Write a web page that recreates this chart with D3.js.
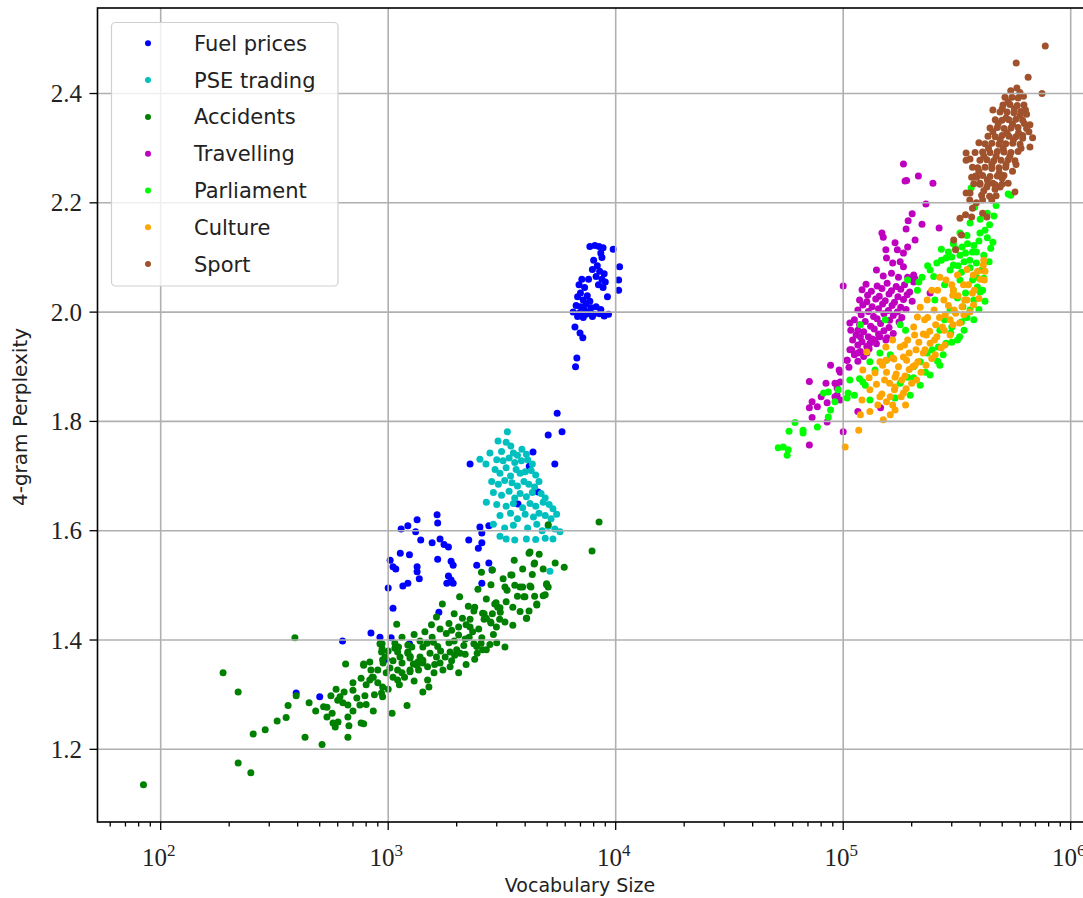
<!DOCTYPE html>
<html>
<head>
<meta charset="utf-8">
<script src="https://cdn.jsdelivr.net/npm/d3@7"></script>
<style>
  html, body { margin: 0; padding: 0; background: #fff; overflow: hidden; }
  svg { display: block; }
  .tick-serif { font-family: "Liberation Serif", "DejaVu Serif", serif; }
  .sans { font-family: "DejaVu Sans", sans-serif; }
</style>
</head>
<body>
<svg id="chart" width="1083" height="898"></svg>
<script>
// ---- data (vocabulary size, 4-gram perplexity) ----
var fuelPrices = [
  [7700,2.120],[8100,2.122],[8450,2.120],[8800,2.118],[9750,2.115],[8600,2.108],[8700,2.100],[10400,2.083],[10300,2.059],[10300,2.040],[9200,2.028],
  [8000,2.095],[8300,2.085],[7900,2.078],[8500,2.075],[8900,2.070],[8200,2.065],[8700,2.060],[9000,2.055],[7600,2.060],[8400,2.050],[8800,2.045],
  [7100,2.060],[6900,2.050],[7300,2.045],[7000,2.035],[7500,2.030],[6800,2.028],[7200,2.022],[7700,2.020],[7400,2.015],[6700,2.012],[7000,2.010],
  [7800,2.008],[8200,2.010],[8600,2.005],[7300,2.004],[6500,2.000],[6900,1.998],[7600,1.998],[8000,1.996],[8900,1.993],[9300,1.996],[7200,1.990],
  [7000,1.994],[7900,1.992],[8500,1.997],[6800,1.992],[7400,1.996],
  [6620,1.973],[6970,1.962],[7170,1.953],[6750,1.916],[6660,1.900],
  [5530,1.815],[5050,1.775],[5810,1.781],[4330,1.744],[2290,1.722],[4170,1.718],[5400,1.722],[4560,1.671],[3720,1.649],
  [1640,1.629],[1650,1.614],[1340,1.620],[1220,1.609],[1140,1.603],[1320,1.598],[1390,1.583],[1560,1.578],[1690,1.585],[1760,1.575],
  [1840,1.570],[2260,1.583],[2530,1.607],[2580,1.596],[2490,1.568],[2580,1.578],[2770,1.609],[1130,1.559],[1240,1.556],[1020,1.546],
  [1050,1.534],[1080,1.530],[1340,1.534],[1340,1.525],[1370,1.512],[1650,1.548],[1890,1.544],[1930,1.537],[2450,1.537],[2770,1.541],
  [2860,1.528],[1840,1.517],[1890,1.510],[1810,1.504],[1930,1.504],[1160,1.499],[1220,1.504],[1000,1.495],[2580,1.504],[1050,1.458],
  [1670,1.451],[840,1.413],[920,1.405],[1030,1.404],[630,1.398],[1240,1.393],[980,1.365],[394,1.303],[500,1.296]
];

var pseTrading = [
  [3340,1.781],[3040,1.764],[3460,1.755],[3870,1.749],[3300,1.762],
  [2800,1.742],[3150,1.745],[3550,1.742],[3700,1.738],[4050,1.740],
  [2530,1.731],[2690,1.722],[3000,1.730],[3200,1.728],[3400,1.733],[3600,1.725],[3850,1.728],[4100,1.730],[4300,1.722],
  [2950,1.712],[3100,1.705],[3300,1.715],[3450,1.700],[3650,1.712],[3800,1.705],[4000,1.708],[4250,1.710],[4450,1.702],
  [2850,1.690],[3050,1.685],[3250,1.692],[3500,1.688],[3700,1.682],[3950,1.690],[4150,1.685],[4600,1.690],[4400,1.680],
  [2900,1.670],[3150,1.665],[3400,1.672],[3600,1.660],[3800,1.668],[4050,1.662],[4300,1.670],[4700,1.668],[4900,1.660],
  [2700,1.652],[3000,1.648],[3300,1.645],[3550,1.650],[3900,1.642],[4200,1.650],[4450,1.645],[4800,1.652],[5100,1.648],[5300,1.640],
  [3100,1.628],[3450,1.632],[3700,1.622],[4000,1.630],[4350,1.625],[4600,1.632],[4900,1.628],[5200,1.622],[5500,1.630],
  [2900,1.612],[3250,1.605],[3550,1.610],[4100,1.605],[4500,1.612],[4750,1.600],[5050,1.608],[5400,1.603],[5690,1.598],
  [3100,1.590],[3300,1.585],[3600,1.583],[4050,1.585],[4450,1.584],[4900,1.586],[5300,1.585],[5140,1.526]
];

var accidents = [
  [84,1.135],[219,1.175],[249,1.157],[188,1.340],[219,1.305],[389,1.404],
  [255,1.228],[288,1.236],[325,1.252],[356,1.258],[363,1.280],[394,1.298],[431,1.222],[512,1.209],[449,1.285],[538,1.277],
  [538,1.259],[567,1.266],[572,1.248],[602,1.250],[585,1.241],[614,1.296],[632,1.285],[665,1.281],[700,1.308],[728,1.294],
  [751,1.281],[665,1.259],[672,1.243],[665,1.222],[760,1.248],[780,1.247],[650,1.356],[780,1.354],[830,1.360],[790,1.298],
  [860,1.270],[830,1.327],[850,1.332],[945,1.314],[935,1.303],[945,1.296],[1090,1.429],[920,1.393],[935,1.378],[945,1.364],
  [1040,1.266],[1210,1.280],
  [1070,1.394],[1070,1.385],[1220,1.391],[1220,1.378],[1018,1.349],[1050,1.332],[1100,1.327],[1180,1.332],[1247,1.345],
  [1340,1.354],[1420,1.358],[1420,1.305],[1490,1.327],[1510,1.314],
  [8450,1.616],[7870,1.563],[5050,1.611],[4160,1.559],[4610,1.557],[3580,1.546],[4380,1.539],[4800,1.530],[5420,1.541],
  [5940,1.533],[2570,1.524],[2870,1.528],[3460,1.519],[2830,1.501],[2480,1.493],[3260,1.497],[3330,1.491],[3900,1.497],
  [4240,1.497],[4970,1.503],[5050,1.497],[3990,1.479],[4800,1.481],[4500,1.466],[4160,1.453],[4060,1.440],[3530,1.460],
  [3530,1.427],[2060,1.479],[2250,1.462],[2380,1.453],[2940,1.466],[3030,1.460],[3110,1.451],[2870,1.448],[3090,1.438],
  [2640,1.448],[2640,1.438],[2820,1.433],[2990,1.424],[1730,1.466],[1630,1.442],[2120,1.440],[2290,1.438],[2290,1.424],
  [2040,1.424],[1690,1.420],[2040,1.409],[2270,1.405],[2580,1.404],[2560,1.394],[2380,1.393],[2180,1.402],
  [1560,1.405],[1580,1.396],[1480,1.394],[1420,1.387],[1270,1.387],[3260,1.387],
  [940,1.393],[940,1.384],[970,1.369],[950,1.358],[860,1.332],[840,1.345],[780,1.356],
  [1110,1.387],[1100,1.378],[1127,1.369],[1150,1.358],[1220,1.376],[1247,1.367],[1290,1.356],
  [1380,1.369],[1420,1.363],[1527,1.376],[1630,1.369],[1690,1.358],[1780,1.369],[1871,1.378],[1960,1.372],[2070,1.376],
  [2180,1.374],[2460,1.376],[2600,1.382],
  [1150,1.340],[1247,1.342],[1360,1.345],[1490,1.351],[1590,1.340],[1740,1.345],[1871,1.351],[2040,1.340],
  [2600,1.449],[2980,1.468],[3100,1.459],[2830,1.431],[3260,1.433],[3500,1.519],[3800,1.497],[4200,1.499],[3950,1.479],
  [4200,1.561],[4400,1.541],[4970,1.501],[4900,1.483],[4500,1.464],[4050,1.440],[2700,1.382],
  [1300,1.410],[1450,1.415],[1800,1.412],[1950,1.398],[2350,1.415],[2150,1.390],[1850,1.395],[1650,1.388],[1380,1.398],
  [1150,1.405],[2450,1.388],[2000,1.382],[1700,1.380],[1250,1.370],[1050,1.362],[1100,1.345],[980,1.340],[900,1.322],
  [1000,1.310],[1120,1.318],[1300,1.325],[870,1.300],[800,1.318],[760,1.330],[700,1.322],[640,1.305],[600,1.290],
  [560,1.298],[520,1.278],[480,1.270],[590,1.310],[700,1.270],[800,1.282],[900,1.345],[1000,1.380],[1350,1.360],
  [1600,1.355],[1900,1.362],[2200,1.355],[2400,1.365],[2800,1.392],[3000,1.395],[2900,1.410],[2500,1.420],[2200,1.428],
  [2700,1.440],[3300,1.470],[3700,1.480],[3600,1.500],[4300,1.520],[3900,1.530],[3200,1.512],[2700,1.475],[2400,1.460],
  [1950,1.448],[1850,1.430],[1550,1.428],[1900,1.418],[3800,1.452],[4400,1.480]
];

var travelling = [
  [187000,2.240],[248000,2.236],[231000,2.198],[201000,2.180],[193000,2.167],[222000,2.161],[264000,2.154],[189000,2.152],
  [207000,2.132],[148000,2.145],[150000,2.137],[184000,2.271],[190000,2.241],[214000,2.249],
  [154000,2.114],[169000,2.127],[173000,2.114],[184000,2.108],[192000,2.119],[155000,2.099],[165000,2.090],[178000,2.092],
  [184000,2.083],[140000,2.077],[150000,2.066],[163000,2.071],[175000,2.064],[192000,2.064],[204000,2.068],[206000,2.062],
  [204000,2.055],[100000,2.048],[241000,2.035],
  [126000,2.051],[141000,2.048],[156000,2.053],[171000,2.047],[186000,2.050],
  [121000,2.041],[133000,2.038],[148000,2.043],[163000,2.039],[179000,2.042],[196000,2.037],
  [128000,2.031],[144000,2.029],[159000,2.033],[174000,2.028],[191000,2.032],
  [118000,2.022],[127000,2.019],[139000,2.024],[153000,2.021],[168000,2.018],[184000,2.023],[201000,2.020],
  [122000,2.013],[134000,2.010],[149000,2.015],[164000,2.012],[179000,2.009],
  [116000,2.004],[129000,2.001],[143000,2.006],[158000,2.003],[173000,2.000],[189000,2.005],
  [120000,1.995],[136000,1.992],[151000,1.997],[166000,1.994],[181000,1.990],
  [112000,1.986],[125000,1.983],[141000,1.988],[160000,1.985],[176000,1.982],
  [118000,1.977],[132000,1.974],[146000,1.979],[159000,1.972],
  [108000,1.967],[123000,1.964],[137000,1.969],[151000,1.966],[166000,1.961],
  [114000,1.958],[129000,1.955],[143000,1.960],[156000,1.953],
  [110000,1.949],[121000,1.946],[134000,1.951],[116000,1.940],[127000,1.937],[140000,1.942],
  [107000,1.931],[119000,1.928],[130000,1.933],[112000,1.922],[123000,1.919],[104000,1.912],[116000,1.910],
  [107000,1.980],[116000,1.967],[119000,1.955],[109000,1.931],[116000,1.925],[127000,1.925],[131000,1.943],[138000,1.949],
  [145000,1.955],[154000,1.949],
  [88000,1.903],[96000,1.894],[97000,1.890],[104000,1.912],[106000,1.899],[92000,1.870],[97000,1.872],[94000,1.861],
  [71000,1.873],[84000,1.870],[73000,1.836],[71000,1.825],[80000,1.845],[77000,1.827],[85000,1.834],[92000,1.845],
  [97000,1.839],[73000,1.807],[85000,1.799],[94000,1.848],[100000,1.781],[71000,1.757],[116000,1.818],[146000,1.825]
];

var parliament = [
  [51800,1.752],[54500,1.753],[57300,1.748],[56700,1.738],[57800,1.782],[61400,1.798],[66600,1.779],[66600,1.784],
  [77000,1.790],[86000,1.808],[88000,1.821],[82000,1.852],[92000,1.836],[86000,1.854],[95000,1.858],[105000,1.852],
  [104000,1.843],[107000,1.876],[118000,1.878],[122000,1.872],
  [153000,1.986],[119000,1.977],[145000,1.925],[131000,1.909],[178000,1.977],
  [192000,2.059],[212000,2.040],[222000,2.064],[241000,2.077],[258000,2.090],[270000,2.095],[283000,2.099],[300000,2.101],
  [326000,2.104],[345000,2.108],[370000,2.110],[361000,2.081],[331000,2.073],[385000,2.090],[385000,2.064],[370000,2.059],
  [389000,2.046],[345000,2.035],[318000,2.026],[336000,2.010],[345000,1.991],[331000,1.982],[300000,1.973],[297000,1.962],
  [283000,1.943],[262000,1.936],[246000,1.931],[234000,1.925],[218000,1.909],[204000,1.900],[192000,1.881],[178000,1.870],
  [204000,1.880],[361000,2.163],[312000,2.116],[333000,2.119],[352000,2.125],[531000,2.216],[545000,2.214],[365000,2.227],
  [430000,2.181],[460000,2.176],[378000,2.192],
  [430000,2.136],[455000,2.128],[445000,2.117],[415000,2.104],[438000,2.092],[405000,2.077],[415000,2.062],[375000,2.022],
  [400000,2.037],[361000,2.004],[375000,1.986],[340000,1.967],[318000,1.949],[275000,1.922],[266000,1.903],[241000,1.885],
  [218000,1.866],[197000,1.848],[169000,1.843],
  [188000,1.967],[161000,1.922],[138000,1.894],[125000,1.866],[112000,1.848],[131000,1.839],[155000,1.912],
  [295000,2.004],[279000,1.986],[266000,1.967],[305000,2.040],[326000,2.059],[295000,2.077],[279000,2.050],[253000,2.022],
  [340000,2.092],[305000,2.086],[375000,2.122],[399000,2.145],[326000,2.145],
  [420000,2.150],[440000,2.160],[395000,2.130],[350000,2.140],[470000,2.195],[400000,2.170],[385000,2.110],[360000,2.095],
  [410000,2.040],[395000,2.005],[420000,2.020],[350000,1.990],[325000,1.955],[300000,1.945],[260000,1.910],[230000,1.890],
  [215000,2.055],[235000,2.085],[250000,2.065],[270000,2.115],[290000,2.110],[305000,2.125],[320000,2.085]
];

var culture = [
  [102000,1.753],[117000,1.784],[119000,1.812],[131000,1.818],[145000,1.845],[161000,1.845],[161000,1.812],[155000,1.836],
  [184000,1.852],[169000,1.863],[181000,1.876],[169000,1.881],[155000,1.890],[145000,1.909],[154000,1.912],[165000,1.916],
  [184000,1.918],[202000,1.900],[213000,1.909],[225000,1.925],[241000,1.943],[258000,1.955],[273000,1.973],[295000,1.986],
  [312000,1.998],[333000,2.010],[350000,2.022],[370000,2.035],[305000,2.040],[283000,2.059],[266000,2.064],[245000,2.040],
  [234000,2.022],[218000,2.009],[212000,1.991],[204000,1.973],[192000,1.949],[178000,1.936],[165000,1.949],[154000,1.936],
  [127000,1.927],[138000,1.889],[122000,1.894],
  [149000,1.903],[152000,1.876],[148000,1.850],[167000,1.914],[171000,1.887],[168000,1.858],
  [186000,1.940],[190000,1.912],[187000,1.883],[189000,1.860],[206000,1.958],[209000,1.931],[207000,1.903],[210000,1.876],
  [228000,1.986],[232000,1.958],[229000,1.931],[231000,1.903],[251000,2.004],[255000,1.977],[252000,1.949],[254000,1.922],
  [277000,2.022],[281000,1.995],[278000,1.967],[280000,1.940],[303000,2.031],[307000,2.004],[304000,1.977],
  [338000,2.050],[342000,2.022],[339000,1.995],[373000,2.068],[377000,2.040],[374000,2.013],[413000,2.086],[417000,2.059],
  [318000,2.068],[415000,2.095],[121000,1.839],[131000,1.858],[142000,1.830],[169000,1.821],[188000,1.830],[150000,1.803],
  [160000,1.870],[175000,1.900],[195000,1.925],[215000,1.945],[240000,1.965],[265000,1.990],[290000,2.012],[320000,2.030],
  [355000,2.050],[390000,2.075],[180000,1.845],[200000,1.870],[220000,1.890],[245000,1.915],[270000,1.935],[295000,1.958],
  [325000,1.980],[360000,2.000],[395000,2.025],[140000,1.868],[130000,1.880],[165000,1.830],[195000,1.895],[260000,2.040],
  [235000,1.990],[225000,1.960],[300000,2.050],[350000,2.078],[400000,2.060],[420000,2.075]
];

var sport = [
  [773000,2.487],[576000,2.456],[650000,2.430],[748000,2.400],[598000,2.402],[662000,2.302],
  [514000,2.393],[552000,2.393],[587000,2.392],
  [504000,2.379],[541000,2.380],[582000,2.378],[623000,2.379],
  [489000,2.366],[525000,2.366],[563000,2.365],[603000,2.367],
  [466000,2.352],[499000,2.351],[535000,2.352],[574000,2.353],[615000,2.351],
  [442000,2.337],[476000,2.338],[509000,2.336],[546000,2.337],[587000,2.338],[640000,2.336],
  [433000,2.322],[466000,2.321],[499000,2.323],[535000,2.322],[574000,2.321],[615000,2.323],
  [420000,2.308],[450000,2.309],[484000,2.307],[518000,2.308],[556000,2.309],[599000,2.307],
  [410000,2.293],[442000,2.292],[476000,2.294],[509000,2.293],[546000,2.292],[587000,2.294],
  [399000,2.278],[428000,2.279],[459000,2.277],[494000,2.278],[531000,2.279],[569000,2.277],
  [390000,2.264],[420000,2.265],[450000,2.263],[484000,2.264],[518000,2.265],
  [382000,2.249],[410000,2.250],[442000,2.248],[476000,2.249],[509000,2.250],
  [399000,2.234],[433000,2.235],[466000,2.233],[499000,2.234],
  [347000,2.291],[361000,2.280],[347000,2.278],[370000,2.265],[386000,2.247],[367000,2.247],[399000,2.236],[428000,2.229],
  [455000,2.236],[489000,2.229],[531000,2.236],[347000,2.218],[361000,2.218],[406000,2.214],[410000,2.205],[450000,2.205],
  [569000,2.220],[370000,2.190],[367000,2.174],[326000,2.172],[345000,2.178],[410000,2.181],[428000,2.174],[306000,2.132],
  [331000,2.141],[312000,2.114],[633000,2.370],[662000,2.343],[680000,2.319],
  [455000,2.370],[530000,2.385],[565000,2.372],[600000,2.360],[480000,2.345],[520000,2.355],[555000,2.344],[590000,2.328],
  [625000,2.345],[455000,2.330],[490000,2.315],[525000,2.328],[560000,2.315],[605000,2.300],[435000,2.300],[470000,2.285],
  [505000,2.300],[540000,2.285],[575000,2.270],[415000,2.285],[450000,2.270],[485000,2.255],[520000,2.270],[555000,2.258],
  [395000,2.258],[430000,2.242],[465000,2.225],[500000,2.245],[375000,2.235],[415000,2.222],[440000,2.212],[385000,2.200],
  [360000,2.205],[470000,2.213],[620000,2.395],[545000,2.405],[580000,2.410],[640000,2.362],[500000,2.372],[615000,2.318],
  [655000,2.330],[395000,2.310],[380000,2.292]
];

var seriesNames = ['Fuel prices', 'PSE trading', 'Accidents', 'Travelling', 'Parliament', 'Culture', 'Sport'];
var seriesData = [fuelPrices, pseTrading, accidents, travelling, parliament, culture, sport];
var seriesColors = ['#0000ff', '#00bfbf', '#008000', '#bf00bf', '#00ff00', '#ffa500', '#a0522d'];

var xMajorTicks = [1e2, 1e3, 1e4, 1e5, 1e6];
var xTickExponents = ['2', '3', '4', '5', '6'];
var yTicks = [1.2, 1.4, 1.6, 1.8, 2.0, 2.2, 2.4];
var xLabel = 'Vocabulary Size';
var yLabel = '4-gram Perplexity';

// ---- layout ----
var plotLeft = 97.5, plotRight = 1094, plotTop = 8, plotBottom = 822;

var svg = d3.select('#chart');
svg.append('rect').attr('width', 1083).attr('height', 898).attr('fill', '#fff');

var x = d3.scaleLog()
  .domain([52.75, 1.266e6])
  .range([plotLeft, plotRight]);

var y = d3.scaleLinear()
  .domain([1.067, 2.5565])
  .range([plotBottom, plotTop]);

// points
seriesData.forEach(function(pts, i) {
  svg.append('g')
    .selectAll('circle')
    .data(pts)
    .enter()
    .append('circle')
    .attr('cx', function(d) { return x(d[0]); })
    .attr('cy', function(d) { return y(d[1]); })
    .attr('r', 3.5)
    .attr('fill', seriesColors[i]);
});

// grid (drawn over the points, like the original)
var grid = svg.append('g').attr('stroke', '#b0b0b0').attr('stroke-width', 1.6);
xMajorTicks.forEach(function(t) {
  grid.append('line')
    .attr('x1', x(t)).attr('x2', x(t))
    .attr('y1', plotTop).attr('y2', plotBottom);
});
yTicks.forEach(function(t) {
  grid.append('line')
    .attr('x1', plotLeft).attr('x2', plotRight)
    .attr('y1', y(t)).attr('y2', y(t));
});

// minor ticks on log axis
var minorTicks = [];
for (var e = 1; e <= 6; e++) {
  for (var k = 2; k <= 9; k++) {
    var v = k * Math.pow(10, e);
    if (v > x.domain()[0] && v < x.domain()[1]) minorTicks.push(v);
  }
}

var ticks = svg.append('g').attr('stroke', '#000').attr('stroke-width', 1.3);
minorTicks.forEach(function(t) {
  ticks.append('line')
    .attr('x1', x(t)).attr('x2', x(t))
    .attr('y1', plotBottom).attr('y2', plotBottom + 4.5);
});
xMajorTicks.forEach(function(t) {
  ticks.append('line')
    .attr('x1', x(t)).attr('x2', x(t))
    .attr('y1', plotBottom).attr('y2', plotBottom + 8);
});
yTicks.forEach(function(t) {
  ticks.append('line')
    .attr('x1', plotLeft - 8).attr('x2', plotLeft)
    .attr('y1', y(t)).attr('y2', y(t));
});

// spines
svg.append('rect')
  .attr('x', plotLeft).attr('y', plotTop)
  .attr('width', plotRight - plotLeft).attr('height', plotBottom - plotTop)
  .attr('fill', 'none').attr('stroke', '#000').attr('stroke-width', 1.6);

// tick labels
xMajorTicks.forEach(function(t, i) {
  var lbl = svg.append('text')
    .attr('class', 'tick-serif')
    .attr('x', x(t) - 2)
    .attr('y', 866)
    .attr('text-anchor', 'middle')
    .attr('font-size', 25)
    .attr('fill', '#222');
  lbl.append('tspan').text('10');
  lbl.append('tspan').attr('dy', -10).attr('font-size', 17).text(xTickExponents[i]);
});

yTicks.forEach(function(t) {
  svg.append('text')
    .attr('class', 'tick-serif')
    .attr('x', 82)
    .attr('y', y(t))
    .attr('dy', '0.34em')
    .attr('text-anchor', 'end')
    .attr('font-size', 25)
    .attr('fill', '#222')
    .text(d3.format('.1f')(t));
});

// axis labels
svg.append('text')
  .attr('class', 'sans')
  .attr('x', 580)
  .attr('y', 892)
  .attr('text-anchor', 'middle')
  .attr('font-size', 19)
  .attr('fill', '#222')
  .text(xLabel);

svg.append('text')
  .attr('class', 'sans')
  .attr('transform', 'translate(27,417) rotate(-90)')
  .attr('text-anchor', 'middle')
  .attr('font-size', 20)
  .attr('fill', '#222')
  .text(yLabel);

// legend
var legend = svg.append('g');
legend.append('rect')
  .attr('x', 111.5).attr('y', 22.5)
  .attr('width', 226.5).attr('height', 263.5)
  .attr('rx', 4)
  .attr('fill', '#fff').attr('fill-opacity', 0.8)
  .attr('stroke', '#d0d0d0').attr('stroke-width', 1.2);

var items = legend.selectAll('g.item')
  .data(seriesNames)
  .enter()
  .append('g')
  .attr('class', 'item')
  .attr('transform', function(d, i) { return 'translate(0,' + (43.3 + i * 36.8) + ')'; });

items.append('circle')
  .attr('cx', 148).attr('cy', 0).attr('r', 3)
  .attr('fill', function(d, i) { return seriesColors[i]; });

items.append('text')
  .attr('class', 'sans')
  .attr('x', 194)
  .attr('dy', '0.36em')
  .attr('font-size', 21)
  .attr('fill', '#222')
  .text(function(d) { return d; });
</script>
</body>
</html>
